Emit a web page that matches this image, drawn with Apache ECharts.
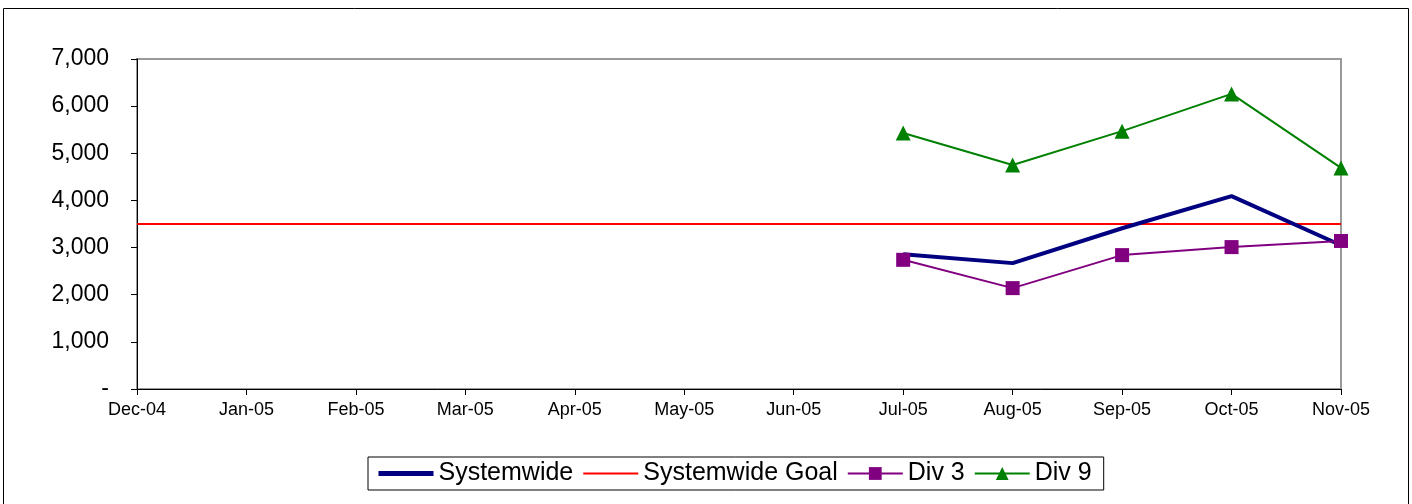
<!DOCTYPE html>
<html>
<head>
<meta charset="utf-8">
<script src="https://cdn.jsdelivr.net/npm/echarts@6/dist/echarts.min.js"></script>
<style>
  html, body { margin: 0; padding: 0; background: #fff; }
  #chart { width: 1412px; height: 504px; }
</style>
</head>
<body>
<div id="chart"></div>
<script>
const months = ['Dec-04', 'Jan-05', 'Feb-05', 'Mar-05', 'Apr-05', 'May-05', 'Jun-05', 'Jul-05', 'Aug-05', 'Sep-05', 'Oct-05', 'Nov-05']
const systemwide = [null, null, null, null, null, null, null, 2860, 2670, 3410, 4090, 3050]
const systemwideGoal = [3500, 3500, 3500, 3500, 3500, 3500, 3500, 3500, 3500, 3500, 3500, 3500]
const div3 = [null, null, null, null, null, null, null, 2740, 2140, 2840, 3010, 3140]
const div9 = [null, null, null, null, null, null, null, 5430, 4750, 5470, 6260, 4690]

const chart = echarts.init(document.getElementById('chart'))
const font = 'Liberation Sans, Arial, sans-serif'

chart.setOption({
  backgroundColor: '#fff',
  animation: false,
  textStyle: { fontFamily: font },
  graphic: [{
    type: 'rect',
    shape: { x: 3.5, y: 8.5, width: 1405, height: 500 },
    style: { fill: 'none', stroke: '#000', lineWidth: 1 },
    z: -1
  }],
  grid: {
    left: 137,
    right: 71,
    top: 59,
    bottom: 115,
    show: true,
    borderColor: '#999',
    borderWidth: 2,
    backgroundColor: '#fff'
  },
  legend: {
    left: 368,
    top: 457,
    itemGap: 9,
    itemWidth: 55,
    itemHeight: 16,
    padding: [4, 12, 4, 8],
    borderColor: '#000',
    borderWidth: 1,
    textStyle: { fontSize: 25, color: '#000', fontFamily: font },
    data: [
      { name: 'Systemwide', itemStyle: { opacity: 0 }, lineStyle: { width: 5 } },
      { name: 'Systemwide Goal', itemStyle: { opacity: 0 }, lineStyle: { width: 2 } },
      'Div 3',
      'Div 9'
    ]
  },
  xAxis: {
    type: 'category',
    boundaryGap: false,
    data: months,
    axisLine: { lineStyle: { color: '#000', width: 1 } },
    axisTick: { show: true, length: 6, lineStyle: { color: '#000' } },
    axisLabel: { color: '#000', fontSize: 18, margin: 12, interval: 0 },
    splitLine: { show: false }
  },
  yAxis: {
    type: 'value',
    min: 0,
    max: 7000,
    interval: 1000,
    axisLine: { show: true, lineStyle: { color: '#000', width: 1 } },
    axisTick: { show: true, length: 6, lineStyle: { color: '#000' } },
    axisLabel: {
      color: '#000',
      fontSize: 23,
      margin: 28,
      formatter: v => v === 0 ? '-' : v.toLocaleString('en-US')
    },
    splitLine: { show: false }
  },
  series: [{
    name: 'Systemwide',
    type: 'line',
    data: systemwide,
    symbol: 'none',
    lineStyle: { color: '#000080', width: 4 },
    itemStyle: { color: '#000080' },
    z: 3
  }, {
    name: 'Systemwide Goal',
    type: 'line',
    data: systemwideGoal,
    symbol: 'none',
    lineStyle: { color: '#ff0000', width: 2 },
    itemStyle: { color: '#ff0000' },
    z: 2
  }, {
    name: 'Div 3',
    type: 'line',
    data: div3,
    symbol: 'rect',
    symbolSize: 14,
    lineStyle: { color: '#800080', width: 2 },
    itemStyle: { color: '#800080' },
    z: 4
  }, {
    name: 'Div 9',
    type: 'line',
    data: div9,
    symbol: 'triangle',
    symbolSize: 15,
    lineStyle: { color: '#008000', width: 2 },
    itemStyle: { color: '#008000' },
    z: 4
  }]
})
</script>
</body>
</html>
